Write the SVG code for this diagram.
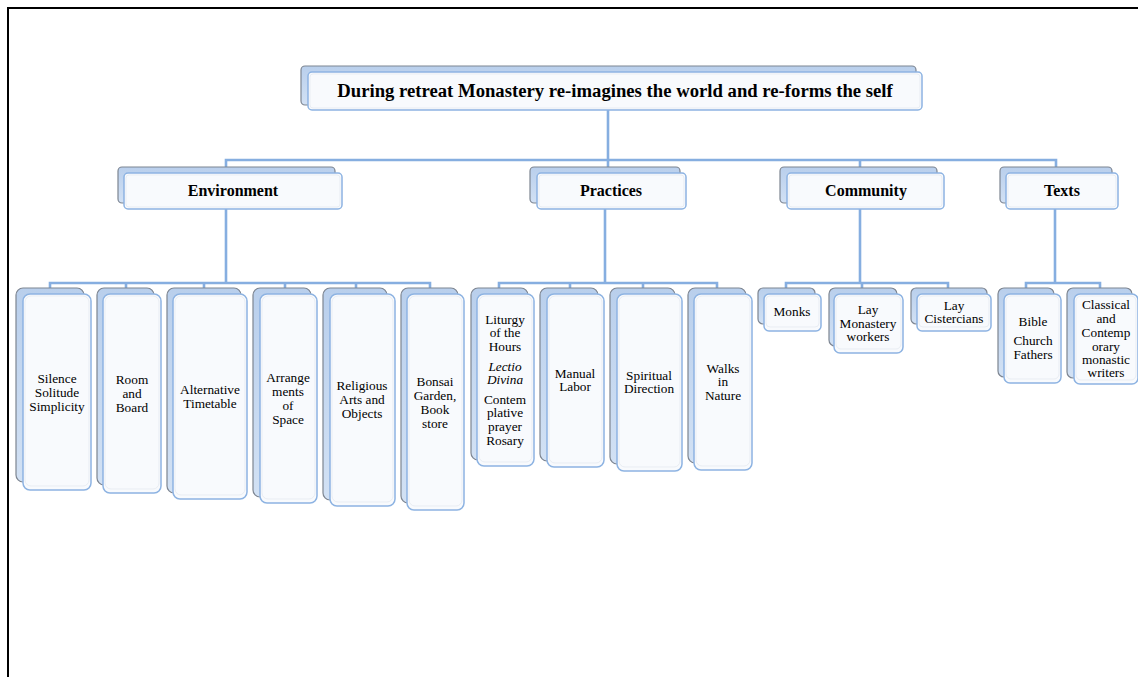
<svg xmlns="http://www.w3.org/2000/svg" width="1138" height="677" viewBox="0 0 1138 677">
<defs>
<linearGradient id="bg" x1="0" y1="0" x2="0" y2="1">
<stop offset="0" stop-color="#b9cfec"/>
<stop offset="1" stop-color="#d2e1f4"/>
</linearGradient>
<style>
.back{fill:url(#bg);stroke:#7d8591;stroke-width:1.2}
.front{fill:#f8fafd;stroke:#8db3e2;stroke-width:1.5}
.inner{fill:none;stroke:#e9edf3;stroke-width:1}
.conn{fill:none;stroke:#86aee0;stroke-width:2.6}
text{font-family:"Liberation Serif","Times New Roman",serif;fill:#000;text-anchor:middle}
.t0{font-size:18.7px;font-weight:bold}
.t1{font-size:16px;font-weight:bold}
.t2{font-size:13.3px}
.it{font-style:italic}
</style>
</defs>
<rect x="0" y="0" width="1138" height="677" fill="#fff"/>
<path d="M8 677 V8 H1138" fill="none" stroke="#000" stroke-width="2"/>

<g id="connectors">
<path class="conn" d="M608 110 V160 M226 167 V160 H1056 V167 M608 160 V167 M860 160 V167"/>
<path class="conn" d="M226 209 V283 M50 289 V283 H430 V289 M126 283 V289 M204 283 V289 M285 283 V289 M356 283 V289"/>
<path class="conn" d="M605 209 V283 M499 289 V283 H717 V289 M570 283 V289 M643 283 V289"/>
<path class="conn" d="M860 209 V283 M786 289 V283 H948 V289 M862 283 V289"/>
<path class="conn" d="M1055 209 V283 M1026 289 V283 H1100 V289"/>
</g>

<g id="title">
<rect class="back" x="301" y="66" width="615" height="39" rx="4"/>
<rect class="front" x="308" y="72" width="614" height="38" rx="4"/>
<rect class="inner" x="310" y="74" width="610" height="34" rx="3"/>
<text class="t0" x="615" y="97">During retreat Monastery re-imagines the world and re-forms the self</text>
</g>

<g id="environment">
<rect class="back" x="118" y="167" width="217" height="36" rx="4"/>
<rect class="front" x="124" y="173" width="218" height="36" rx="4"/>
<rect class="inner" x="126" y="175" width="214" height="32" rx="3"/>
<text class="t1" x="233" y="196">Environment</text>
</g>
<g id="practices">
<rect class="back" x="530" y="167" width="150" height="36" rx="4"/>
<rect class="front" x="537" y="173" width="149" height="36" rx="4"/>
<rect class="inner" x="539" y="175" width="145" height="32" rx="3"/>
<text class="t1" x="611" y="196">Practices</text>
</g>
<g id="community">
<rect class="back" x="780" y="167" width="157" height="36" rx="4"/>
<rect class="front" x="787" y="173" width="157" height="36" rx="4"/>
<rect class="inner" x="789" y="175" width="153" height="32" rx="3"/>
<text class="t1" x="866" y="196">Community</text>
</g>
<g id="texts">
<rect class="back" x="1000" y="167" width="112" height="36" rx="4"/>
<rect class="front" x="1006" y="173" width="112" height="36" rx="4"/>
<rect class="inner" x="1008" y="175" width="108" height="32" rx="3"/>
<text class="t1" x="1062" y="196">Texts</text>
</g>

<g id="silence">
<rect class="back" x="16" y="288" width="68" height="194" rx="7"/>
<rect class="front" x="23" y="294" width="68" height="196" rx="7"/>
<rect class="inner" x="25" y="296" width="64" height="190" rx="6"/>
<text class="t2" x="57" y="383">Silence</text>
<text class="t2" x="57" y="397">Solitude</text>
<text class="t2" x="57" y="411">Simplicity</text>
</g>
<g id="room">
<rect class="back" x="97" y="288" width="57" height="197" rx="7"/>
<rect class="front" x="103" y="294" width="58" height="199" rx="7"/>
<rect class="inner" x="105" y="296" width="54" height="193" rx="6"/>
<text class="t2" x="132" y="384">Room</text>
<text class="t2" x="132" y="398">and</text>
<text class="t2" x="132" y="412">Board</text>
</g>
<g id="timetable">
<rect class="back" x="167" y="288" width="74" height="205" rx="7"/>
<rect class="front" x="173" y="294" width="74" height="205" rx="7"/>
<rect class="inner" x="175" y="296" width="70" height="199" rx="6"/>
<text class="t2" x="210" y="394">Alternative</text>
<text class="t2" x="210" y="408">Timetable</text>
</g>
<g id="arrangements">
<rect class="back" x="253" y="288" width="58" height="209" rx="7"/>
<rect class="front" x="260" y="294" width="57" height="209" rx="7"/>
<rect class="inner" x="262" y="296" width="53" height="203" rx="6"/>
<text class="t2" x="288" y="382">Arrange</text>
<text class="t2" x="288" y="396">ments</text>
<text class="t2" x="288" y="410">of</text>
<text class="t2" x="288" y="424">Space</text>
</g>
<g id="religious">
<rect class="back" x="323" y="288" width="64" height="212" rx="7"/>
<rect class="front" x="330" y="294" width="65" height="212" rx="7"/>
<rect class="inner" x="332" y="296" width="61" height="206" rx="6"/>
<text class="t2" x="362" y="390">Religious</text>
<text class="t2" x="362" y="404">Arts and</text>
<text class="t2" x="362" y="418">Objects</text>
</g>
<g id="bonsai">
<rect class="back" x="401" y="288" width="57" height="215" rx="7"/>
<rect class="front" x="407" y="294" width="57" height="216" rx="7"/>
<rect class="inner" x="409" y="296" width="53" height="210" rx="6"/>
<text class="t2" x="435" y="386">Bonsai</text>
<text class="t2" x="435" y="400">Garden,</text>
<text class="t2" x="435" y="414">Book</text>
<text class="t2" x="435" y="428">store</text>
</g>

<g id="liturgy">
<rect class="back" x="471" y="288" width="57" height="172" rx="7"/>
<rect class="front" x="477" y="294" width="57" height="172" rx="7"/>
<rect class="inner" x="479" y="296" width="53" height="166" rx="6"/>
<text class="t2" x="505" y="324">Liturgy</text>
<text class="t2" x="505" y="337">of the</text>
<text class="t2" x="505" y="351">Hours</text>
<text class="t2 it" x="505" y="371">Lectio</text>
<text class="t2 it" x="505" y="384">Divina</text>
<text class="t2" x="505" y="404">Contem</text>
<text class="t2" x="505" y="417">plative</text>
<text class="t2" x="505" y="431">prayer</text>
<text class="t2" x="505" y="445">Rosary</text>
</g>
<g id="manual">
<rect class="back" x="540" y="288" width="58" height="173" rx="7"/>
<rect class="front" x="547" y="294" width="57" height="173" rx="7"/>
<rect class="inner" x="549" y="296" width="53" height="167" rx="6"/>
<text class="t2" x="575" y="378">Manual</text>
<text class="t2" x="575" y="391">Labor</text>
</g>
<g id="spiritual">
<rect class="back" x="610" y="288" width="65" height="176" rx="7"/>
<rect class="front" x="617" y="294" width="65" height="177" rx="7"/>
<rect class="inner" x="619" y="296" width="61" height="171" rx="6"/>
<text class="t2" x="649" y="380">Spiritual</text>
<text class="t2" x="649" y="393">Direction</text>
</g>
<g id="walks">
<rect class="back" x="688" y="288" width="58" height="175" rx="7"/>
<rect class="front" x="694" y="294" width="58" height="176" rx="7"/>
<rect class="inner" x="696" y="296" width="54" height="170" rx="6"/>
<text class="t2" x="723" y="373">Walks</text>
<text class="t2" x="723" y="386">in</text>
<text class="t2" x="723" y="400">Nature</text>
</g>

<g id="monks">
<rect class="back" x="758" y="288" width="57" height="36" rx="5"/>
<rect class="front" x="764" y="294" width="57" height="37" rx="5"/>
<rect class="inner" x="766" y="296" width="53" height="31" rx="4"/>
<text class="t2" x="792" y="316">Monks</text>
</g>
<g id="lay-workers">
<rect class="back" x="829" y="288" width="68" height="58" rx="6"/>
<rect class="front" x="834" y="294" width="69" height="59" rx="6"/>
<rect class="inner" x="836" y="296" width="65" height="53" rx="5"/>
<text class="t2" x="868" y="314">Lay</text>
<text class="t2" x="868" y="328">Monastery</text>
<text class="t2" x="868" y="341">workers</text>
</g>
<g id="lay-cistercians">
<rect class="back" x="911" y="288" width="76" height="36" rx="5"/>
<rect class="front" x="917" y="294" width="74" height="37" rx="5"/>
<rect class="inner" x="919" y="296" width="70" height="31" rx="4"/>
<text class="t2" x="954" y="310">Lay</text>
<text class="t2" x="954" y="323">Cistercians</text>
</g>

<g id="bible">
<rect class="back" x="998" y="288" width="56" height="89" rx="6"/>
<rect class="front" x="1004" y="294" width="57" height="89" rx="6"/>
<rect class="inner" x="1006" y="296" width="53" height="83" rx="5"/>
<text class="t2" x="1033" y="326">Bible</text>
<text class="t2" x="1033" y="345">Church</text>
<text class="t2" x="1033" y="359">Fathers</text>
</g>
<g id="classical">
<rect class="back" x="1067" y="288" width="65" height="90" rx="6"/>
<rect class="front" x="1074" y="294" width="64" height="90" rx="6"/>
<rect class="inner" x="1076" y="296" width="60" height="84" rx="5"/>
<text class="t2" x="1106" y="309">Classical</text>
<text class="t2" x="1106" y="323">and</text>
<text class="t2" x="1106" y="337">Contemp</text>
<text class="t2" x="1106" y="351">orary</text>
<text class="t2" x="1106" y="364">monastic</text>
<text class="t2" x="1106" y="377">writers</text>
</g>
</svg>
